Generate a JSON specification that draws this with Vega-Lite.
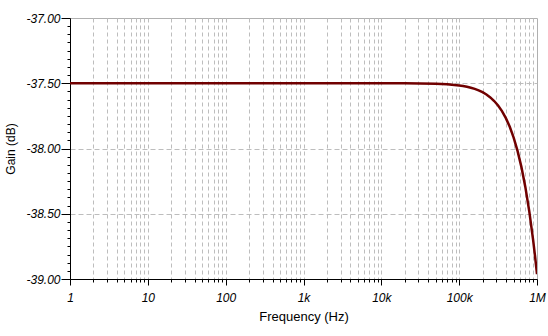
{
  "$schema": "https://vega.github.io/schema/vega-lite/v6.json",
  "autosize": "none",
  "width": 467,
  "height": 261,
  "padding": {"left": 70, "top": 18, "right": 11, "bottom": 57},
  "background": "white",
  "config": {
    "view": {"stroke": "#b0b0b0", "strokeWidth": 1},
    "font": "Liberation Sans"
  },
  "data": {
    "values": [
      {"f": 1, "gain": -37.5},
      {"f": 10, "gain": -37.5},
      {"f": 100, "gain": -37.5},
      {"f": 1000, "gain": -37.5},
      {"f": 10000, "gain": -37.5002},
      {"f": 20000, "gain": -37.5007},
      {"f": 50000, "gain": -37.5043},
      {"f": 70000, "gain": -37.5085},
      {"f": 100000, "gain": -37.5174},
      {"f": 112200, "gain": -37.5218},
      {"f": 125900, "gain": -37.5275},
      {"f": 141300, "gain": -37.5346},
      {"f": 158500, "gain": -37.5435},
      {"f": 177800, "gain": -37.5546},
      {"f": 199500, "gain": -37.5687},
      {"f": 223900, "gain": -37.5863},
      {"f": 251200, "gain": -37.6084},
      {"f": 281800, "gain": -37.636},
      {"f": 316200, "gain": -37.6705},
      {"f": 354800, "gain": -37.7136},
      {"f": 398100, "gain": -37.7674},
      {"f": 446700, "gain": -37.8338},
      {"f": 501200, "gain": -37.9163},
      {"f": 562300, "gain": -38.018},
      {"f": 631000, "gain": -38.1427},
      {"f": 707900, "gain": -38.2943},
      {"f": 794300, "gain": -38.4785},
      {"f": 891300, "gain": -38.7},
      {"f": 944000, "gain": -38.8258},
      {"f": 1000000, "gain": -38.9632}
    ]
  },
  "mark": {"type": "line", "color": "#700000", "strokeWidth": 2.5, "clip": true},
  "encoding": {
    "x": {
      "field": "f",
      "type": "quantitative",
      "scale": {"type": "log", "domain": [1, 1000000], "nice": false},
      "axis": {
        "title": "Frequency (Hz)",
        "titleFont": "Liberation Sans",
        "titleFontSize": 13,
        "titleFontWeight": "normal",
        "titleColor": "black",
        "titlePadding": 7,
        "values": [1,2,3,4,5,6,7,8,9,10,20,30,40,50,60,70,80,90,100,200,300,400,500,600,700,800,900,1000,2000,3000,4000,5000,6000,7000,8000,9000,10000,20000,30000,40000,50000,60000,70000,80000,90000,100000,200000,300000,400000,500000,600000,700000,800000,900000,1000000],
        "labelExpr": "datum.value==1?'1':datum.value==10?'10':datum.value==100?'100':datum.value==1000?'1k':datum.value==10000?'10k':datum.value==100000?'100k':datum.value==1000000?'1M':''",
        "labelFont": "Liberation Sans",
        "labelFontStyle": "italic",
        "labelFontSize": 12,
        "labelColor": "black",
        "labelOverlap": false,
        "labelFlush": false,
        "labelBound": false,
        "labelPadding": 7,
        "domainColor": "black",
        "domainWidth": 1,
        "tickColor": "black",
        "tickSize": {"condition": {"test": "abs(log(datum.value)/LN10 - round(log(datum.value)/LN10)) < 1e-6", "value": 6}, "value": 3},
        "grid": true,
        "gridColor": "#bdbdbd",
        "gridDash": [4, 3],
        "gridWidth": 1,
        "gridOpacity": {"condition": {"test": "datum.value >= 1000000 || datum.value <= 1", "value": 0}, "value": 1}
      }
    },
    "y": {
      "field": "gain",
      "type": "quantitative",
      "scale": {"domain": [-39, -37], "nice": false, "zero": false},
      "axis": {
        "title": "Gain (dB)",
        "titleFont": "Liberation Sans",
        "titleFontSize": 12,
        "titleFontWeight": "normal",
        "titleColor": "black",
        "titlePadding": 8,
        "values": [-39,-38.9375,-38.875,-38.8125,-38.75,-38.6875,-38.625,-38.5625,-38.5,-38.4375,-38.375,-38.3125,-38.25,-38.1875,-38.125,-38.0625,-38,-37.9375,-37.875,-37.8125,-37.75,-37.6875,-37.625,-37.5625,-37.5,-37.4375,-37.375,-37.3125,-37.25,-37.1875,-37.125,-37.0625,-37],
        "labelExpr": "abs(datum.value*2 - round(datum.value*2)) < 1e-6 ? replace(format(datum.value, '.2f'), '\u2212', '-') : ''",
        "labelFont": "Liberation Sans",
        "labelFontStyle": "italic",
        "labelFontSize": 12,
        "labelColor": "black",
        "labelOverlap": false,
        "labelFlush": false,
        "labelBound": false,
        "labelPadding": 1,
        "domainColor": "black",
        "domainWidth": 1,
        "tickColor": "black",
        "tickSize": {"condition": {"test": "abs(datum.value*2 - round(datum.value*2)) < 1e-6", "value": 9}, "value": 3},
        "grid": true,
        "gridColor": "#bdbdbd",
        "gridDash": [5, 3],
        "gridWidth": 1,
        "gridOpacity": {"condition": {"test": "abs(datum.value*2 - round(datum.value*2)) < 1e-6 && datum.value > -38.99 && datum.value < -37.01", "value": 1}, "value": 0}
      }
    }
  }
}
